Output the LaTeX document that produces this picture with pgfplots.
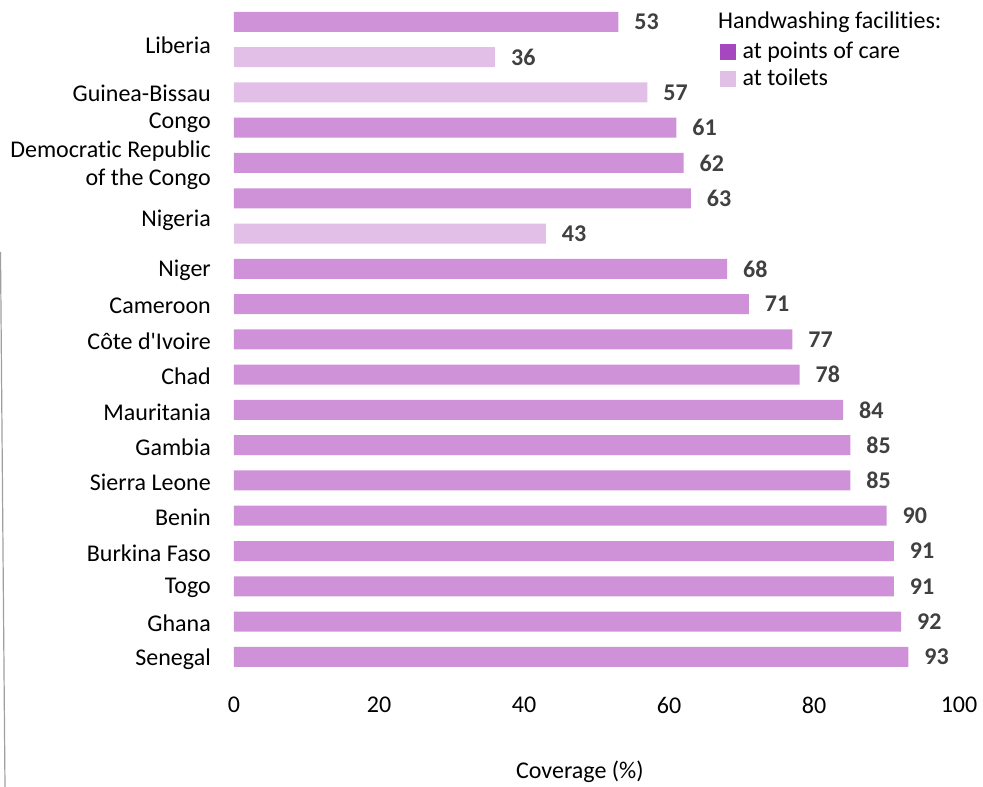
\documentclass[border=0pt]{standalone}
\usepackage{fontspec}
\setmainfont[Ligatures=NoCommon]{Carlito}
\usepackage{pgfplots}
\pgfplotsset{compat=1.18}
\definecolor{barcare}{HTML}{CF92D8}
\definecolor{bartoilet}{HTML}{E1BFE7}
\definecolor{legcare}{HTML}{A547BE}
\definecolor{valtext}{HTML}{404040}

\begin{document}
\begin{tikzpicture}[font=\fontsize{24bp}{28bp}\selectfont]
\useasboundingbox (-234bp,-109bp) rectangle (749bp,678bp);
\begin{axis}[
  scale only axis, width=725bp, height=678bp,
  xmin=0, xmax=100, ymin=-0.62, ymax=18.6, y dir=reverse,
  axis line style={draw=none}, tick style={draw=none},
  major tick length=0pt,
  xtick={0,20,40,60,80,100},
  ytick={0.62,1.98,2.81,4.02,5.58,7,8,9,10,11,12,13,14,15,16,17,18},
  yticklabels={Liberia,Guinea-Bissau,Congo,{Democratic Republic\\of the Congo},Nigeria,Niger,Cameroon,C\^ote d\textquotesingle Ivoire,Chad,Mauritania,Gambia,Sierra Leone,Benin,Burkina Faso,Togo,Ghana,Senegal},
  y tick label style={align=right, inner sep=0pt, anchor=east, xshift=-23bp, yshift=-2bp, font=\fontsize{24bp}{28bp}\selectfont},
  x tick label style={inner sep=0pt, anchor=center, yshift=-27bp, font=\fontsize{24bp}{28bp}\selectfont},
  /pgf/number format/assume math mode=true,
  xbar, bar width=20bp,
  point meta=x,
  nodes near coords,
  nodes near coords style={font=\fontsize{24bp}{28bp}\selectfont\bfseries, text=valtext, anchor=west, inner sep=0pt, xshift=16bp},
  every axis x label/.style={at={(axis description cs:0.477,-0.1386)}, anchor=center, font=\fontsize{24bp}{28bp}\selectfont},
  xlabel={Coverage (\%)},
  legend style={at={(axis description cs:0.6703,0.938)}, anchor=north west, draw=none, fill=none, inner sep=0pt, row sep=9bp, column sep=7bp, font=\fontsize{24bp}{28bp}\selectfont, nodes={inner sep=0pt}},
  legend cell align=left,
]
% handwashing facilities at points of care
\addplot[fill=barcare, draw=none, bar shift=0pt, forget plot] coordinates {
  (53,0) (61,3) (62,4) (63,5) (68,7) (71,8) (77,9) (78,10) (84,11)
  (85,12) (85,13) (90,14) (91,15) (91,16) (92,17) (93,18)};
% handwashing facilities at toilets
\addplot[fill=bartoilet, draw=none, bar shift=0pt, forget plot] coordinates {
  (36,1) (57,2) (43,6)};
\addlegendimage{legend image code/.code={\fill[legcare] (0bp,-7.5bp) rectangle (15bp,7.5bp);}}
\addlegendentry{at points of care}
\addlegendimage{legend image code/.code={\fill[bartoilet] (0bp,-7.5bp) rectangle (15bp,7.5bp);}}
\addlegendentry{at toilets}
\end{axis}
\node[anchor=base west, inner sep=0pt] at (484bp,649bp) {Handwashing facilities:};
\draw[gray!75, line width=1.2bp] (-233.5bp,426bp) -- (-229bp,-109bp);
\end{tikzpicture}
\end{document}
